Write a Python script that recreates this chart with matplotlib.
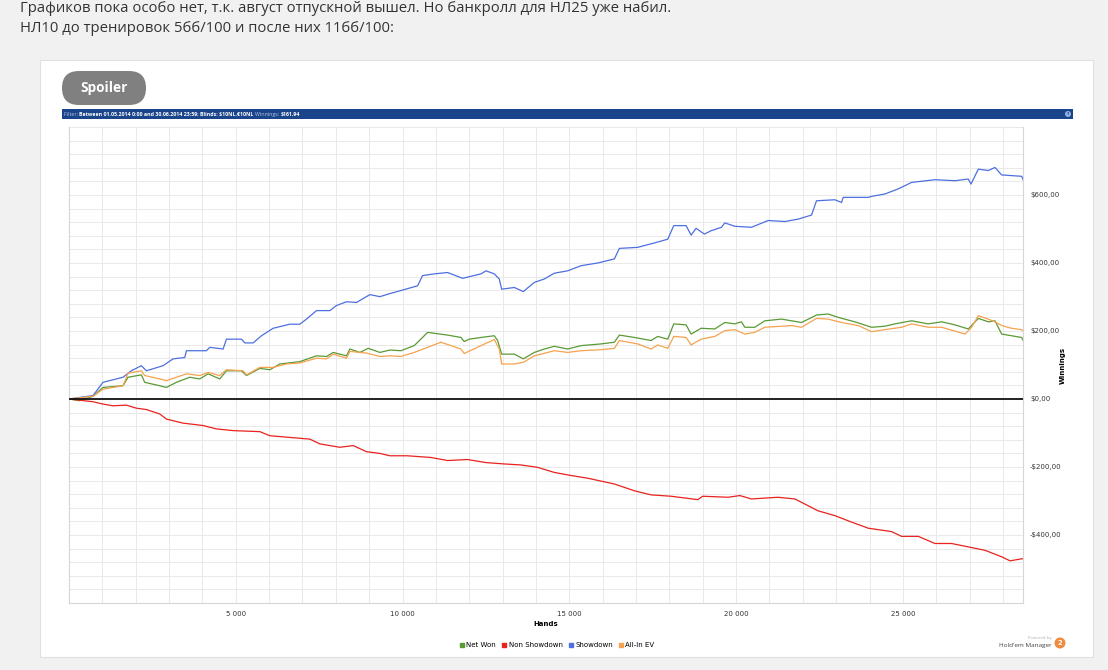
import matplotlib
matplotlib.use("Agg")
import matplotlib.pyplot as plt
from matplotlib.patches import Rectangle, FancyBboxPatch, Circle
from matplotlib.lines import Line2D
from matplotlib.ticker import MultipleLocator, FixedLocator, FuncFormatter

# данные (руки -> выигрыш в $)
net_won_hands = [0, 320, 720, 1020, 1620, 1770, 2170, 2270, 2720, 2920,
                 3220, 3620, 3920, 4170, 4520, 4720, 5170, 5320, 5720, 6020,
                 6320, 6920, 7420, 7720, 7920, 8320, 8420, 8720, 8970, 9320,
                 9620, 9950, 10350, 10650, 10750, 11350, 11750, 11850, 12000, 12350,
                 12750, 12850, 12970, 13350, 13620, 13950, 14250, 14550, 14950, 15350,
                 15950, 16350, 16500, 16950, 17450, 17650, 17950, 18130, 18500, 18650,
                 18950, 19360, 19660, 19960, 20160, 20260, 20560, 20860, 21360, 21660,
                 21960, 22410, 22760, 23060, 23560, 24060, 24460, 24760, 25260, 25760,
                 26160, 26560, 26960, 27260, 27560, 27760, 27960, 28260, 28560, 28660]
net_won = [0, -5, 8, 34, 39, 64, 71, 49, 39, 34,
           49, 64, 59, 74, 59, 83, 83, 69, 90, 86,
           103, 110, 127, 125, 137, 127, 147, 137, 149, 137,
           144, 142, 157, 186, 196, 188, 181, 169, 176, 181,
           186, 172, 132, 132, 118, 137, 147, 155, 147, 157,
           162, 167, 188, 181, 172, 184, 176, 221, 218, 191,
           208, 206, 225, 221, 227, 211, 211, 230, 235, 230,
           225, 247, 250, 240, 227, 211, 214, 221, 230, 221,
           227, 218, 206, 237, 227, 230, 191, 186, 181, 162]

non_sd_hands = [0, 720, 1020, 1320, 1720, 2020, 2320, 2720, 2920, 3420,
                4020, 4420, 4920, 5720, 6020, 6620, 7220, 7520, 8120, 8520,
                8920, 9320, 9620, 10150, 10850, 11350, 11950, 12500, 13050, 13550,
                14050, 14550, 15050, 15550, 16350, 16950, 17450, 18050, 18850, 19000,
                19760, 20110, 20460, 21260, 21760, 22460, 22960, 23460, 23960, 24660,
                24960, 25460, 25960, 26460, 26960, 27460, 27960, 28210, 28560, 28660]
non_showdown = [0, -8, -15, -20, -18, -27, -31, -44, -59, -71,
                -78, -88, -93, -96, -108, -113, -118, -132, -142, -137,
                -155, -160, -167, -167, -172, -181, -178, -187, -191, -194,
                -201, -216, -225, -233, -250, -270, -282, -286, -296, -286,
                -289, -284, -294, -289, -294, -329, -343, -362, -380, -390,
                -404, -404, -425, -425, -435, -445, -464, -476, -470, -470]

sd_hands = [0, 720, 1020, 1620, 1870, 2170, 2320, 2820, 3120, 3470,
            3520, 4120, 4220, 4620, 4720, 5170, 5270, 5520, 5770, 6120,
            6620, 6920, 7120, 7420, 7820, 8020, 8320, 8620, 9020, 9320,
            9620, 9950, 10450, 10600, 10950, 11350, 11800, 12350, 12500, 12750,
            12900, 12970, 13350, 13620, 13950, 14250, 14550, 14950, 15350, 15850,
            16350, 16500, 17050, 17550, 17950, 18130, 18500, 18650, 18800, 19050,
            19250, 19560, 19660, 19960, 20460, 20960, 21460, 21860, 22260, 22410,
            22960, 23160, 23210, 23960, 24060, 24460, 24860, 25260, 25960, 26560,
            26960, 27040, 27260, 27560, 27760, 27960, 28260, 28560, 28660]
showdown = [0, 10, 49, 64, 83, 98, 83, 98, 118, 122,
            142, 142, 152, 147, 176, 176, 165, 165, 186, 208,
            220, 220, 235, 260, 260, 275, 286, 284, 307, 301,
            310, 319, 333, 363, 368, 372, 355, 368, 377, 368,
            353, 323, 328, 316, 343, 353, 370, 377, 392, 400,
            412, 443, 446, 459, 470, 510, 510, 482, 502, 485,
            495, 505, 518, 508, 505, 525, 522, 529, 541, 583,
            586, 578, 593, 593, 596, 603, 618, 637, 645, 642,
            647, 632, 676, 672, 681, 659, 657, 655, 632]

ev_hands = [0, 720, 1020, 1620, 1770, 2170, 2270, 2720, 2920, 3520,
            3920, 4170, 4520, 4720, 5220, 5320, 5720, 6120, 6520, 6920,
            7420, 7720, 7920, 8320, 8420, 8920, 9320, 9620, 9950, 10350,
            10750, 11150, 11750, 11850, 12350, 12750, 12900, 12970, 13350, 13620,
            13950, 14550, 14950, 15350, 15950, 16350, 16500, 17050, 17450, 17650,
            17950, 18130, 18500, 18650, 18950, 19360, 19660, 19960, 20260, 20560,
            20860, 21360, 21660, 21960, 22410, 22760, 23160, 23660, 24060, 24460,
            24960, 25260, 25760, 26160, 26860, 27060, 27260, 27560, 27760, 27960,
            28260, 28560, 28660]
all_in_ev = [0, 8, 29, 39, 76, 83, 69, 59, 54, 74,
             69, 78, 69, 86, 83, 71, 93, 93, 103, 106,
             120, 118, 132, 120, 140, 135, 125, 127, 125, 137,
             152, 167, 147, 134, 157, 175, 147, 103, 103, 108,
             127, 142, 137, 142, 145, 149, 172, 162, 147, 159,
             149, 184, 181, 159, 176, 184, 201, 204, 191, 196,
             211, 214, 216, 211, 237, 235, 225, 216, 198, 204,
             211, 221, 211, 211, 191, 211, 245, 235, 227, 216,
             208, 204, 196]

series_names = ["Net Won", "Non Showdown", "Showdown", "All-In EV"]
series_colors = ["#5a9a34", "#e8221e", "#4d6fe0", "#f6a24e"]

W, H = 1108, 670
fig = plt.figure(figsize=(W / 100, H / 100), dpi=100, facecolor="#f1f1f1")

# фон страницы в пикселях
bg = fig.add_axes([0, 0, 1, 1], zorder=0)
bg.set_xlim(0, W)
bg.set_ylim(H, 0)
bg.axis("off")

bg.text(20, 9, "Графиков пока особо нет, т.к. август отпускной вышел. Но банкролл для НЛ25 уже набил.",
        fontsize=10.7, family="Open Sans", color="#333333", va="center")
bg.text(20, 29, "НЛ10 до тренировок 5бб/100 и после них 11бб/100:",
        fontsize=10.7, family="Open Sans", color="#333333", va="center")

bg.add_patch(Rectangle((40, 60), 1053, 597, facecolor="white", edgecolor="#e0e0e0", lw=0.8))
bg.add_patch(FancyBboxPatch((62, 71), 84, 34, boxstyle="round,pad=0,rounding_size=17",
                            facecolor="#808080", edgecolor="none"))
bg.text(104, 88, "Spoiler", fontsize=9.8, family="Open Sans", weight="bold",
        color="white", ha="center", va="center")

# полоса фильтра
bg.add_patch(Rectangle((62, 109), 1011, 10, facecolor="#1b458a", edgecolor="none"))
t = bg.text(64, 114.3, "Filter: ", fontsize=3.8, family="Open Sans", color="#b9c8e2", va="center")
t = bg.annotate("Between 01.05.2014 0:00 and 30.06.2014 23:59; Blinds: $10NL,€10NL ",
                xy=(1, 0), xycoords=t, fontsize=3.8, family="Open Sans", weight="bold",
                color="white", va="bottom")
t = bg.annotate("Winnings: ", xy=(1, 0), xycoords=t, fontsize=3.8, family="Open Sans",
                color="#b9c8e2", va="bottom")
bg.annotate("$161,94", xy=(1, 0), xycoords=t, fontsize=3.8, family="Open Sans",
            weight="bold", color="white", va="bottom")
bg.add_patch(Circle((1068, 114), 3, facecolor="#8fb2e0", edgecolor="none"))
bg.text(1068, 114.3, "?", fontsize=3, color="#1b458a", ha="center", va="center", weight="bold")

# основной график
ax = fig.add_axes([69 / W, 67 / H, 954 / W, 476 / H], zorder=1)
ax.set_facecolor("white")
ax.plot(net_won_hands, net_won, color=series_colors[0], lw=0.9)
ax.plot(non_sd_hands, non_showdown, color=series_colors[1], lw=0.9)
ax.plot(sd_hands, showdown, color=series_colors[2], lw=0.9)
ax.plot(ev_hands, all_in_ev, color=series_colors[3], lw=0.9)
ax.axhline(0, color="#111111", lw=1.3, zorder=3)

ax.set_xlim(0, 28600)
ax.set_ylim(-600, 800)
ax.xaxis.set_major_locator(FixedLocator([5000, 10000, 15000, 20000, 25000]))
ax.xaxis.set_minor_locator(MultipleLocator(1000))
ax.yaxis.set_major_locator(FixedLocator([-400, -200, 0, 200, 400, 600]))
ax.yaxis.set_minor_locator(MultipleLocator(40))
ax.xaxis.set_major_formatter(FuncFormatter(lambda v, p: f"{int(v):,}".replace(",", " ")))


def money(v, p):
    s = f"${abs(v):.2f}".replace(".", ",")
    return "-" + s if v < 0 else s


ax.yaxis.set_major_formatter(FuncFormatter(money))
ax.yaxis.tick_right()
ax.grid(which="both", color="#e9e9e9", lw=0.7)
ax.set_axisbelow(True)
ax.tick_params(which="both", length=0)
ax.tick_params(axis="x", labelsize=5, colors="#333333", pad=6)
ax.tick_params(axis="y", labelsize=5, colors="#333333", pad=5)
for s in ax.spines.values():
    s.set_color("#d6d6d6")
    s.set_linewidth(0.8)
ax.spines["top"].set_visible(False)

ax.set_xlabel("Hands", fontsize=5, weight="bold", labelpad=3)
ax.yaxis.set_label_position("right")
ax.set_ylabel("Winnings", fontsize=5, weight="bold", rotation=90)
ax.yaxis.set_label_coords(1.039, 0.5)

handles = [Line2D([], [], ls="none", marker="s", markersize=2.5, color=c) for c in series_colors]
fig.legend(handles, series_names, loc="center", bbox_to_anchor=(557 / W, 1 - 645 / H),
           ncol=4, fontsize=5, frameon=False, handletextpad=0.2, columnspacing=0.8,
           handlelength=0.8)

# логотип
bg.text(1052, 638, "Powered by", fontsize=3, color="#b5b5b5", ha="right", va="center")
bg.text(1052, 645, "Hold'em Manager", fontsize=4.6, family="Open Sans", color="#444444",
        ha="right", va="center")
bg.add_patch(Circle((1060, 643), 5.5, facecolor="#f08a3c", edgecolor="none"))
bg.text(1060, 643.3, "2", fontsize=5, color="white", weight="bold", ha="center", va="center")

fig.savefig("out.png", dpi=100, facecolor=fig.get_facecolor())
